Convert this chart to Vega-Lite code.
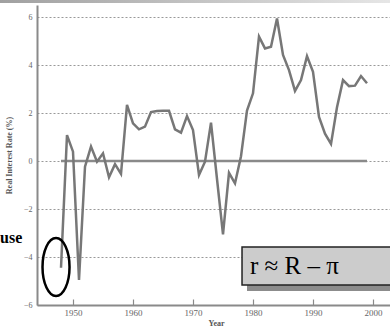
{
  "$schema": "https://vega.github.io/schema/vega-lite/v6.json",
  "width": 354,
  "height": 300,
  "autosize": {"type": "none"},
  "padding": {"left": 37, "top": 5, "right": 0, "bottom": 24},
  "background": "white",
  "config": {"view": {"stroke": null}},
  "datasets": {
    "series": [
      {"year": 1948, "value": -4.45}, {"year": 1949, "value": 1.08}, {"year": 1950, "value": 0.39},
      {"year": 1951, "value": -4.96}, {"year": 1952, "value": -0.24}, {"year": 1953, "value": 0.6},
      {"year": 1954, "value": -0.03}, {"year": 1955, "value": 0.32}, {"year": 1956, "value": -0.68},
      {"year": 1957, "value": -0.13}, {"year": 1958, "value": -0.54}, {"year": 1959, "value": 2.34},
      {"year": 1960, "value": 1.57}, {"year": 1961, "value": 1.32}, {"year": 1962, "value": 1.43},
      {"year": 1963, "value": 2.04}, {"year": 1964, "value": 2.08}, {"year": 1965, "value": 2.09},
      {"year": 1966, "value": 2.09}, {"year": 1967, "value": 1.32}, {"year": 1968, "value": 1.18},
      {"year": 1969, "value": 1.87}, {"year": 1970, "value": 1.29}, {"year": 1971, "value": -0.58},
      {"year": 1972, "value": -0.03}, {"year": 1973, "value": 1.6}, {"year": 1974, "value": -0.75},
      {"year": 1975, "value": -3.06}, {"year": 1976, "value": -0.49}, {"year": 1977, "value": -0.93},
      {"year": 1978, "value": 0.2}, {"year": 1979, "value": 2.1}, {"year": 1980, "value": 2.82},
      {"year": 1981, "value": 5.18}, {"year": 1982, "value": 4.69}, {"year": 1983, "value": 4.76},
      {"year": 1984, "value": 5.94}, {"year": 1985, "value": 4.42}, {"year": 1986, "value": 3.79},
      {"year": 1987, "value": 2.92}, {"year": 1988, "value": 3.37}, {"year": 1989, "value": 4.37},
      {"year": 1990, "value": 3.72}, {"year": 1991, "value": 1.84}, {"year": 1992, "value": 1.14},
      {"year": 1993, "value": 0.71}, {"year": 1994, "value": 2.24}, {"year": 1995, "value": 3.37},
      {"year": 1996, "value": 3.12}, {"year": 1997, "value": 3.14}, {"year": 1998, "value": 3.54},
      {"year": 1999, "value": 3.24}
    ],
    "zero": [{"year": 1948, "year2": 1999, "value": 0}],
    "shadow": [{"year": 1979, "year2": 2005, "value": -3.83, "value2": -5.42}],
    "box": [{"year": 1978.17, "year2": 2005, "value": -3.58, "value2": -5.17}],
    "formula": [{"year": 1979.5, "value": -4.375, "label": "r ≈ R – π"}],
    "ellipse": [{"year": 1947.17, "value": -4.42}],
    "cutText": [{"year": 1937.85, "value": -3.2, "label": "use"}],
    "strip": [{"year": 1937.6, "year2": 2005, "value": 6.71, "value2": 6.58}]
  },
  "encoding": {
    "x": {
      "field": "year", "type": "quantitative",
      "scale": {"domain": [1944, 2003], "nice": false, "zero": false},
      "axis": {
        "values": [1950, 1960, 1970, 1980, 1990, 2000], "format": "d", "grid": false,
        "domainColor": "#8a8a8a", "domainWidth": 2,
        "tickColor": "#8a8a8a", "tickWidth": 1.2, "tickSize": -6, "labelPadding": 9,
        "labelFont": "Liberation Serif", "labelFontSize": 9, "labelColor": "#666",
        "title": "Year", "titleFont": "Liberation Serif", "titleFontSize": 8, "titleFontWeight": "bold",
        "titleColor": "#555", "titleX": 179, "titleY": 18.5, "titleBaseline": "middle"
      }
    },
    "y": {
      "field": "value", "type": "quantitative",
      "scale": {"domain": [-6, 6.5], "nice": false, "zero": false},
      "axis": {
        "values": [-6, -4, -2, 0, 2, 4, 6], "grid": true, "gridColor": "#999", "gridDash": [2, 2], "gridWidth": 1,
        "ticks": false, "tickSize": 0, "labelPadding": 5,
        "domainColor": "#8a8a8a", "domainWidth": 2,
        "labelFont": "Liberation Serif", "labelFontSize": 8, "labelColor": "#666",
        "title": "Real Interest Rate (%)", "titleFont": "Liberation Serif", "titleFontSize": 8, "titleFontWeight": "bold",
        "titleColor": "#555", "titleX": -28, "titleY": 150, "titleBaseline": "middle", "titleAngle": 270
      }
    }
  },
  "layer": [
    {"data": {"name": "zero"}, "mark": {"type": "rule", "color": "#8a8a8a", "strokeWidth": 2.5},
     "encoding": {"x2": {"field": "year2"}}},
    {"data": {"name": "series"}, "mark": {"type": "line", "color": "#777777", "strokeWidth": 2.5, "strokeJoin": "miter"}},
    {"data": {"name": "shadow"}, "mark": {"type": "rect", "fill": "#8c8c8c", "clip": false},
     "encoding": {"x2": {"field": "year2"}, "y2": {"field": "value2"}}},
    {"data": {"name": "box"}, "mark": {"type": "rect", "fill": "#cccccc", "stroke": "#222", "strokeWidth": 1.5, "clip": false},
     "encoding": {"x2": {"field": "year2"}, "y2": {"field": "value2"}}},
    {"data": {"name": "formula"}, "mark": {"type": "text", "font": "Liberation Serif", "fontSize": 25, "color": "black", "align": "left", "baseline": "middle"},
     "encoding": {"text": {"field": "label"}}},
    {"data": {"name": "ellipse"}, "mark": {"type": "point", "filled": false, "stroke": "black", "strokeWidth": 2.5, "size": 3364,
      "shape": "M -0.466,0 A 0.466,1 0 1,1 0.466,0 A 0.466,1 0 1,1 -0.466,0 Z", "opacity": 1}},
    {"data": {"name": "cutText"}, "mark": {"type": "text", "font": "Liberation Serif", "fontSize": 16, "fontWeight": "bold", "color": "black", "align": "left", "baseline": "middle"},
     "encoding": {"text": {"field": "label"}}},
    {"data": {"name": "strip"}, "mark": {"type": "rect", "clip": false, "color": {"gradient": "linear", "x1": 0, "x2": 1, "y1": 0, "y2": 0, "stops": [{"offset": 0, "color": "#a0a0a0"}, {"offset": 1, "color": "#e8e8e8"}]}},
     "encoding": {"x2": {"field": "year2"}, "y2": {"field": "value2"}}}
  ]
}
